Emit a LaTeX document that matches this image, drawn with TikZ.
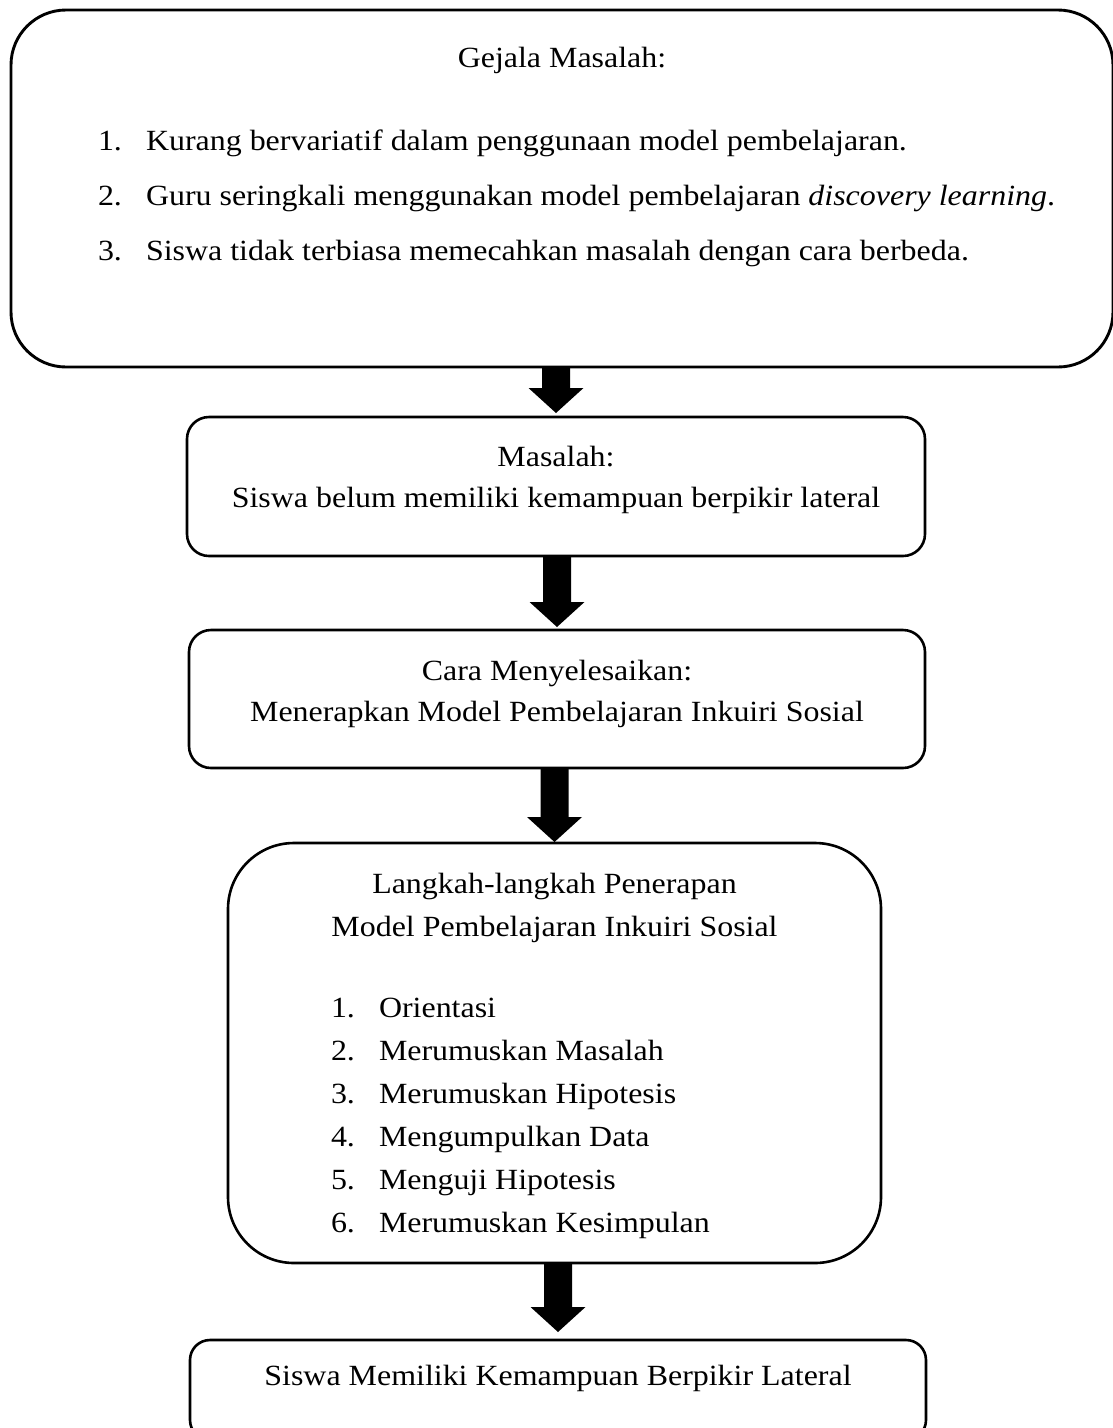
\documentclass[tikz,border=0pt]{standalone}
\usepackage{fontspec}
\setmainfont[FakeStretch=1.09]{Liberation Serif}
\usetikzlibrary{calc}
\tikzset{
  box/.style={draw, line width=2.6pt, rectangle, inner sep=0pt, outer sep=0pt},
  txt/.style={font=\fontsize{29.3}{35}\selectfont, inner sep=0pt, outer sep=0pt},
}
\newcommand{\fatarrow}[3]{%
  \fill ($(#2.north |- #1.south)$) ++(-14,0) -- ($(#2.north)+(-14,-#3-25)$) -- ($(#2.north)+(-27.5,-#3-25)$)
     -- ($(#2.north)+(0,-#3)$) -- ($(#2.north)+(27.5,-#3-25)$) -- ($(#2.north)+(14,-#3-25)$)
     -- ($(#2.north |- #1.south)+(14,0)$) -- cycle;}
\begin{document}
\begin{tikzpicture}[x=1pt,y=-1pt]
\useasboundingbox (0,0) rectangle (1113,1428);
\clip (0,0) rectangle (1113,1428);
% boxes
\node[box, line width=2.9pt, rounded corners=55pt, minimum width=1102pt, minimum height=357pt] (b1) at (562,188.5) {};
\node[box, rounded corners=22pt, minimum width=738pt, minimum height=139pt] (b2) at (556,486.5) {};
\node[box, rounded corners=22pt, minimum width=736pt, minimum height=138pt] (b3) at (557,699) {};
\node[box, rounded corners=66pt, minimum width=653pt, minimum height=420pt] (b4) at (554.5,1053) {};
\node[box, rounded corners=20pt, minimum width=736pt, minimum height=100pt] (b5) at (558,1390) {};
% box 1 text
\node[txt, anchor=base] (g0) at (562,67) {Gejala Masalah:};
\node[txt, anchor=base west] (g1n) at (98,150) {1.};
\node[txt, anchor=base west] (g1) at (146,150) {Kurang bervariatif dalam penggunaan model pembelajaran.};
\node[txt, anchor=base west] (g2n) at (98,205) {2.};
\node[txt, anchor=base west] (g2) at (146,205) {Guru seringkali menggunakan model pembelajaran \textit{discovery learning}.};
\node[txt, anchor=base west] (g3n) at (98,260) {3.};
\node[txt, anchor=base west] (g3) at (146,260) {Siswa tidak terbiasa memecahkan masalah dengan cara berbeda.};
% box 2 text
\node[txt, anchor=base] (m1) at (556,466) {Masalah:};
\node[txt, anchor=base] (m2) at (556,507) {Siswa belum memiliki kemampuan berpikir lateral};
% box 3 text
\node[txt, anchor=base] (c1) at (557,680) {Cara Menyelesaikan:};
\node[txt, anchor=base] (c2) at (557,721) {Menerapkan Model Pembelajaran Inkuiri Sosial};
% box 4 text
\node[txt, anchor=base] (l1) at (554.5,893) {Langkah-langkah Penerapan};
\node[txt, anchor=base] (l2) at (554.5,936) {Model Pembelajaran Inkuiri Sosial};
\foreach \i/\t [count=\k from 0] in {1/Orientasi, 2/Merumuskan Masalah, 3/Merumuskan Hipotesis, 4/Mengumpulkan Data, 5/Menguji Hipotesis, 6/Merumuskan Kesimpulan}{
  \node[txt, anchor=base west] (s\i n) at (331,1017+43*\k) {\i.};
  \node[txt, anchor=base west] (s\i) at (379,1017+43*\k) {\t};
}
% box 5 text
\node[txt, anchor=base] (z1) at (558,1385) {Siswa Memiliki Kemampuan Berpikir Lateral};
% arrows
\fatarrow{b1}{b2}{4}
\fatarrow{b2}{b3}{3}
\fatarrow{b3}{b4}{1}
\fatarrow{b4}{b5}{8}
\end{tikzpicture}
\end{document}
